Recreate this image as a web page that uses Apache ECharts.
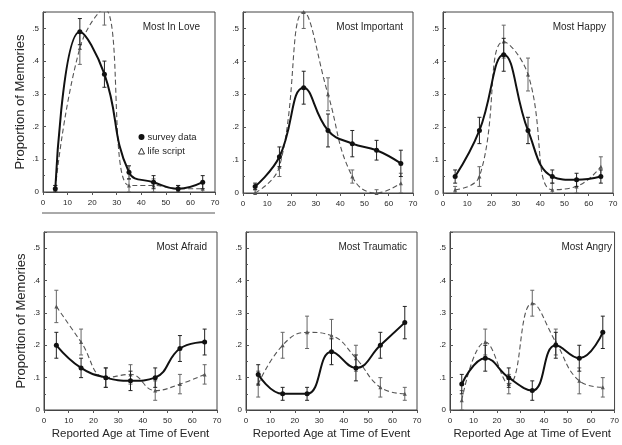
<!DOCTYPE html>
<html>
<head>
<meta charset="utf-8">
<script src="https://cdn.jsdelivr.net/npm/echarts@6/dist/echarts.min.js"></script>
<style>
  html, body { margin: 0; padding: 0; background: #fff; }
  #main { width: 622px; height: 445px; }
</style>
</head>
<body>
<div id="main"></div>
<script>
// reported age at time of event (decade midpoints)
var ages = [5, 15, 25, 35, 45, 55, 65];
var xTicks = [0, 10, 20, 30, 40, 50, 60, 70];
var yTicks = [0, 0.1, 0.2, 0.3, 0.4, 0.5];
var panelTitles = ['Most In Love', 'Most Important', 'Most Happy', 'Most Afraid', 'Most Traumatic', 'Most Angry'];

// survey data (solid) and life script (dashed), proportion of memories
var surveyLove = [0.01, 0.49, 0.36, 0.06, 0.03, 0.01, 0.03];
var scriptLove = [0.01, 0.44, 0.56, 0.02, 0.02, 0.01, 0.01];
var surveyImportant = [0.02, 0.11, 0.32, 0.19, 0.15, 0.13, 0.09];
var scriptImportant = [0.00, 0.08, 0.55, 0.30, 0.05, 0.00, 0.03];
var surveyHappy = [0.05, 0.19, 0.42, 0.19, 0.05, 0.04, 0.05];
var scriptHappy = [0.01, 0.05, 0.46, 0.36, 0.01, 0.02, 0.08];
var surveyAfraid = [0.20, 0.13, 0.10, 0.09, 0.10, 0.19, 0.21];
var scriptAfraid = [0.32, 0.21, 0.10, 0.11, 0.06, 0.08, 0.11];
var surveyTraumatic = [0.11, 0.05, 0.05, 0.18, 0.13, 0.20, 0.27];
var scriptTraumatic = [0.08, 0.20, 0.24, 0.23, 0.16, 0.07, 0.05];
var surveyAngry = [0.08, 0.16, 0.10, 0.06, 0.20, 0.16, 0.24];
var scriptAngry = [0.03, 0.21, 0.08, 0.33, 0.21, 0.09, 0.07];

// error bar half widths
var surveyLoveErr = [0.01, 0.04, 0.04, 0.02, 0.02, 0.01, 0.02];
var scriptLoveErr = [0.01, 0.05, 0.05, 0.02, 0.02, 0.01, 0.02];
var surveyImportantErr = [0.01, 0.03, 0.05, 0.05, 0.04, 0.03, 0.04];
var scriptImportantErr = [0.01, 0.03, 0.05, 0.05, 0.02, 0.01, 0.03];
var surveyHappyErr = [0.02, 0.04, 0.05, 0.04, 0.02, 0.02, 0.02];
var scriptHappyErr = [0.01, 0.03, 0.05, 0.05, 0.02, 0.02, 0.03];
var surveyAfraidErr = [0.04, 0.03, 0.03, 0.03, 0.03, 0.04, 0.04];
var scriptAfraidErr = [0.05, 0.04, 0.03, 0.03, 0.03, 0.03, 0.03];
var surveyTraumaticErr = [0.03, 0.02, 0.02, 0.04, 0.04, 0.04, 0.05];
var scriptTraumaticErr = [0.04, 0.04, 0.05, 0.05, 0.04, 0.03, 0.02];
var surveyAngryErr = [0.03, 0.04, 0.03, 0.03, 0.04, 0.04, 0.05];
var scriptAngryErr = [0.03, 0.04, 0.03, 0.04, 0.04, 0.04, 0.03];

var surveyAll = [surveyLove, surveyImportant, surveyHappy, surveyAfraid, surveyTraumatic, surveyAngry];
var scriptAll = [scriptLove, scriptImportant, scriptHappy, scriptAfraid, scriptTraumatic, scriptAngry];
var surveyErrAll = [surveyLoveErr, surveyImportantErr, surveyHappyErr, surveyAfraidErr, surveyTraumaticErr, surveyAngryErr];
var scriptErrAll = [scriptLoveErr, scriptImportantErr, scriptHappyErr, scriptAfraidErr, scriptTraumaticErr, scriptAngryErr];

var font = 'Liberation Sans, Arial, sans-serif';
var ink = '#262626';

var gridBoxes = [
    { left: 43, top: 12, width: 172, height: 180 },
    { left: 243, top: 12, width: 170, height: 181 },
    { left: 443, top: 12, width: 170, height: 181 },
    { left: 44, top: 232, width: 173, height: 178 },
    { left: 246, top: 232, width: 171, height: 178 },
    { left: 450, top: 232, width: 170, height: 178 }
];
// distance of each panel title from the panel's right edge
var titleInset = [15, 10, 7, 10, 10, 8];

var chartDom = document.getElementById('main');
var myChart = echarts.init(chartDom, null, { renderer: 'canvas' });

function pairs(vals) {
    return ages.map(function (a, i) { return [a, vals[i]]; });
}
function errRows(vals, errs) {
    return ages.map(function (a, i) { return [a, vals[i] - errs[i], vals[i] + errs[i]]; });
}
function errorBar(color) {
    return function (params, api) {
        var x = api.value(0);
        var lo = api.coord([x, api.value(1)]);
        var hi = api.coord([x, api.value(2)]);
        var cap = 2;
        var st = { stroke: color, lineWidth: 1 };
        return {
            type: 'group',
            children: [
                { type: 'line', shape: { x1: lo[0], y1: lo[1], x2: hi[0], y2: hi[1] }, style: st },
                { type: 'line', shape: { x1: lo[0] - cap, y1: lo[1], x2: lo[0] + cap, y2: lo[1] }, style: st },
                { type: 'line', shape: { x1: hi[0] - cap, y1: hi[1], x2: hi[0] + cap, y2: hi[1] }, style: st }
            ]
        };
    };
}

var grids = [], xAxes = [], yAxes = [], series = [], graphics = [];

gridBoxes.forEach(function (g, i) {
    grids.push({
        left: g.left, top: g.top, width: g.width, height: g.height,
        show: true, borderColor: '#444', borderWidth: 1, backgroundColor: 'transparent'
    });
    var bottomRow = i >= 3;
    xAxes.push({
        type: 'value', gridIndex: i, min: xTicks[0], max: xTicks[xTicks.length - 1], interval: 10,
        axisLine: { lineStyle: { color: '#444', width: 1 } },
        axisTick: { show: true, length: 3, lineStyle: { color: '#555' } },
        axisLabel: { fontSize: 8, color: ink, fontFamily: font, margin: 7 },
        splitLine: { show: false },
        name: bottomRow ? 'Reported Age at Time of Event' : '',
        nameLocation: 'middle', nameGap: 18,
        nameTextStyle: { fontSize: 11.5, color: ink, fontFamily: font }
    });
    yAxes.push({
        type: 'value', gridIndex: i, min: 0, max: 0.55, interval: 0.1,
        axisLine: { show: true, lineStyle: { color: '#444', width: 1 } },
        axisTick: { show: true, inside: true, length: 3, lineStyle: { color: '#555' } },
        minorTick: { show: true, splitNumber: 2, length: 2, lineStyle: { color: '#555' } },
        axisLabel: {
            fontSize: 8, color: ink, fontFamily: font, margin: 4, showMaxLabel: false,
            formatter: function (v) { return v === 0 ? '0' : '.' + Math.round(v * 10); }
        },
        splitLine: { show: false },
        name: (i % 3 === 0) ? 'Proportion of Memories' : '',
        nameLocation: 'middle', nameGap: 16,
        nameTextStyle: { fontSize: 13, color: ink, fontFamily: font }
    });

    series.push({
        name: 'life script', type: 'line', xAxisIndex: i, yAxisIndex: i,
        data: pairs(scriptAll[i]), smooth: 0.45, clip: true,
        symbol: 'triangle', symbolSize: 4,
        itemStyle: { color: '#555' },
        lineStyle: { color: '#555', width: 1.1, type: [5, 3] },
        z: 2
    });
    series.push({
        name: 'script err ' + i, type: 'custom', xAxisIndex: i, yAxisIndex: i,
        data: errRows(scriptAll[i], scriptErrAll[i]), clip: true,
        encode: { x: 0, y: [1, 2] },
        renderItem: errorBar('#666'), z: 2
    });
    series.push({
        name: 'survey data', type: 'line', xAxisIndex: i, yAxisIndex: i,
        data: pairs(surveyAll[i]), smooth: 0.45, clip: true,
        symbol: 'circle', symbolSize: 5,
        itemStyle: { color: '#111' },
        lineStyle: { color: '#111', width: 2 },
        z: 3
    });
    series.push({
        name: 'survey err ' + i, type: 'custom', xAxisIndex: i, yAxisIndex: i,
        data: errRows(surveyAll[i], surveyErrAll[i]), clip: true,
        encode: { x: 0, y: [1, 2] },
        renderItem: errorBar('#222'), z: 3
    });

    graphics.push({
        type: 'text', right: 622 - (g.left + g.width) + titleInset[i], top: g.top + 10,
        style: { text: panelTitles[i], font: '10px ' + font, fill: ink }
    });
});

// stray rule under the first panel in the source figure
graphics.push({
    type: 'line', shape: { x1: 42, y1: 213, x2: 215, y2: 213 },
    style: { stroke: '#555', lineWidth: 1 }
});

var option = {
    animation: false,
    backgroundColor: '#fff',
    textStyle: { fontFamily: font },
    grid: grids,
    xAxis: xAxes,
    yAxis: yAxes,
    legend: {
        left: 133, top: 127, orient: 'vertical', itemGap: 4,
        itemWidth: 6, itemHeight: 6,
        textStyle: { fontSize: 9.5, color: ink, fontFamily: font, padding: [0, 0, 0, -2] },
        data: [
            { name: 'survey data', icon: 'circle', itemStyle: { color: '#111' } },
            { name: 'life script', icon: 'triangle', itemStyle: { color: '#fff', borderColor: '#333', borderWidth: 1 } }
        ]
    },
    graphic: graphics,
    series: series
};
option && myChart.setOption(option);
</script>
</body>
</html>
